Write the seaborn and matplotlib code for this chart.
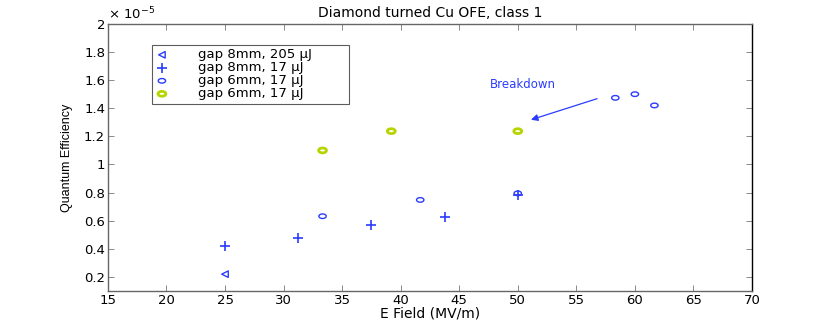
import numpy as np
import matplotlib
matplotlib.use('Agg')
import matplotlib.pyplot as plt
import seaborn as sns
import pandas as pd
from matplotlib.path import Path
from matplotlib.transforms import Affine2D

# E field (MV/m) and quantum efficiency (x 1e-5)
field_8mm_205 = [25.0]
qe_8mm_205 = [0.22]
field_8mm_17 = [25.0, 31.25, 37.5, 43.75, 50.0]
qe_8mm_17 = [0.42, 0.475, 0.572, 0.628, 0.785]
field_6mm_17 = [33.33, 41.67, 50.0, 58.33, 60.0, 61.67]
qe_6mm_17 = [0.632, 0.748, 0.795, 1.474, 1.50, 1.42]
field_6mm_17b = [33.33, 39.2, 50.0]
qe_6mm_17b = [1.10, 1.237, 1.237]

labels = ['gap 8mm, 205 µJ', 'gap 8mm, 17 µJ', 'gap 6mm, 17 µJ', 'gap 6mm, 17 µJ']
xticks = list(range(15, 71, 5))
yticks = [0.2, 0.4, 0.6, 0.8, 1.0, 1.2, 1.4, 1.6, 1.8, 2.0]

sns.set_style('white')
plt.rcParams['font.family'] = ['DejaVu Sans']
plt.rcParams['text.color'] = 'black'
plt.rcParams['axes.labelcolor'] = 'black'

blue = '#2a3cff'
green = '#b8d400'
ellipse = Path.unit_circle().transformed(Affine2D().scale(1.0, 0.62))

fig = plt.figure(figsize=(8.3, 3.27), dpi=100)
ax = fig.add_axes([0.130, 0.110, 0.776, 0.817])

series = [
    (field_8mm_205, qe_8mm_205, labels[0], dict(marker='<', s=22, facecolors='none', edgecolors=blue, linewidths=1.0)),
    (field_8mm_17, qe_8mm_17, labels[1], dict(marker='+', s=45, color=blue, linewidths=1.2)),
    (field_6mm_17, qe_6mm_17, labels[2], dict(marker=ellipse, s=28, facecolors='none', edgecolors=blue, linewidths=1.0)),
    (field_6mm_17b, qe_6mm_17b, labels[3], dict(marker=ellipse, s=32, facecolors='none', edgecolors=green, linewidths=2.0)),
]
for xs, ys, lab, kw in series:
    df = pd.DataFrame({'field': xs, 'qe': ys})
    sns.scatterplot(data=df, x='field', y='qe', ax=ax, label=lab, **kw)

ax.set_xlim(15, 70)
ax.set_ylim(0.1, 2.0)
ax.set_xticks(xticks)
ax.set_xticklabels([str(t) for t in xticks])
ax.set_yticks(yticks)
ax.set_yticklabels(['%g' % t for t in yticks])
ax.tick_params(labelsize=9.5, length=4, width=0.6, color='#777777', labelcolor='black', pad=2,
               direction='in', top=True, right=True, bottom=True, left=True)
for sp in ax.spines.values():
    sp.set_color('#666666')
    sp.set_linewidth(1.0)
ax.spines['right'].set_color('black')

ax.set_xlabel('E Field (MV/m)', fontsize=10, labelpad=0)
ax.set_ylabel('Quantum Efficiency', fontsize=9, labelpad=8,
              family=['Liberation Sans Narrow', 'Liberation Sans'])
ax.set_title('Diamond turned Cu OFE, class 1', fontsize=10, pad=5)
ax.text(0.0, 1.005, r'$\times$ 10$^{-5}$', transform=ax.transAxes, fontsize=9.5, va='bottom', ha='left')

ax.annotate('', xy=(50.9, 1.312), xytext=(57.0, 1.474),
            arrowprops=dict(arrowstyle='-|>', color=blue, lw=0.9, mutation_scale=10))
ax.text(47.6, 1.566, 'Breakdown', color=blue, fontsize=8.5, va='center', ha='left')

leg = ax.legend(loc='upper left', bbox_to_anchor=(0.0685, 0.5, 0.306, 0.421), mode='expand',
                borderaxespad=0, fontsize=9.5, frameon=True, fancybox=False, handletextpad=2.2,
                labelspacing=0.0, borderpad=0.25, handlelength=1.0)
leg.get_frame().set_edgecolor('#333333')
leg.get_frame().set_linewidth(0.8)

fig.savefig('out.png', dpi=100)
